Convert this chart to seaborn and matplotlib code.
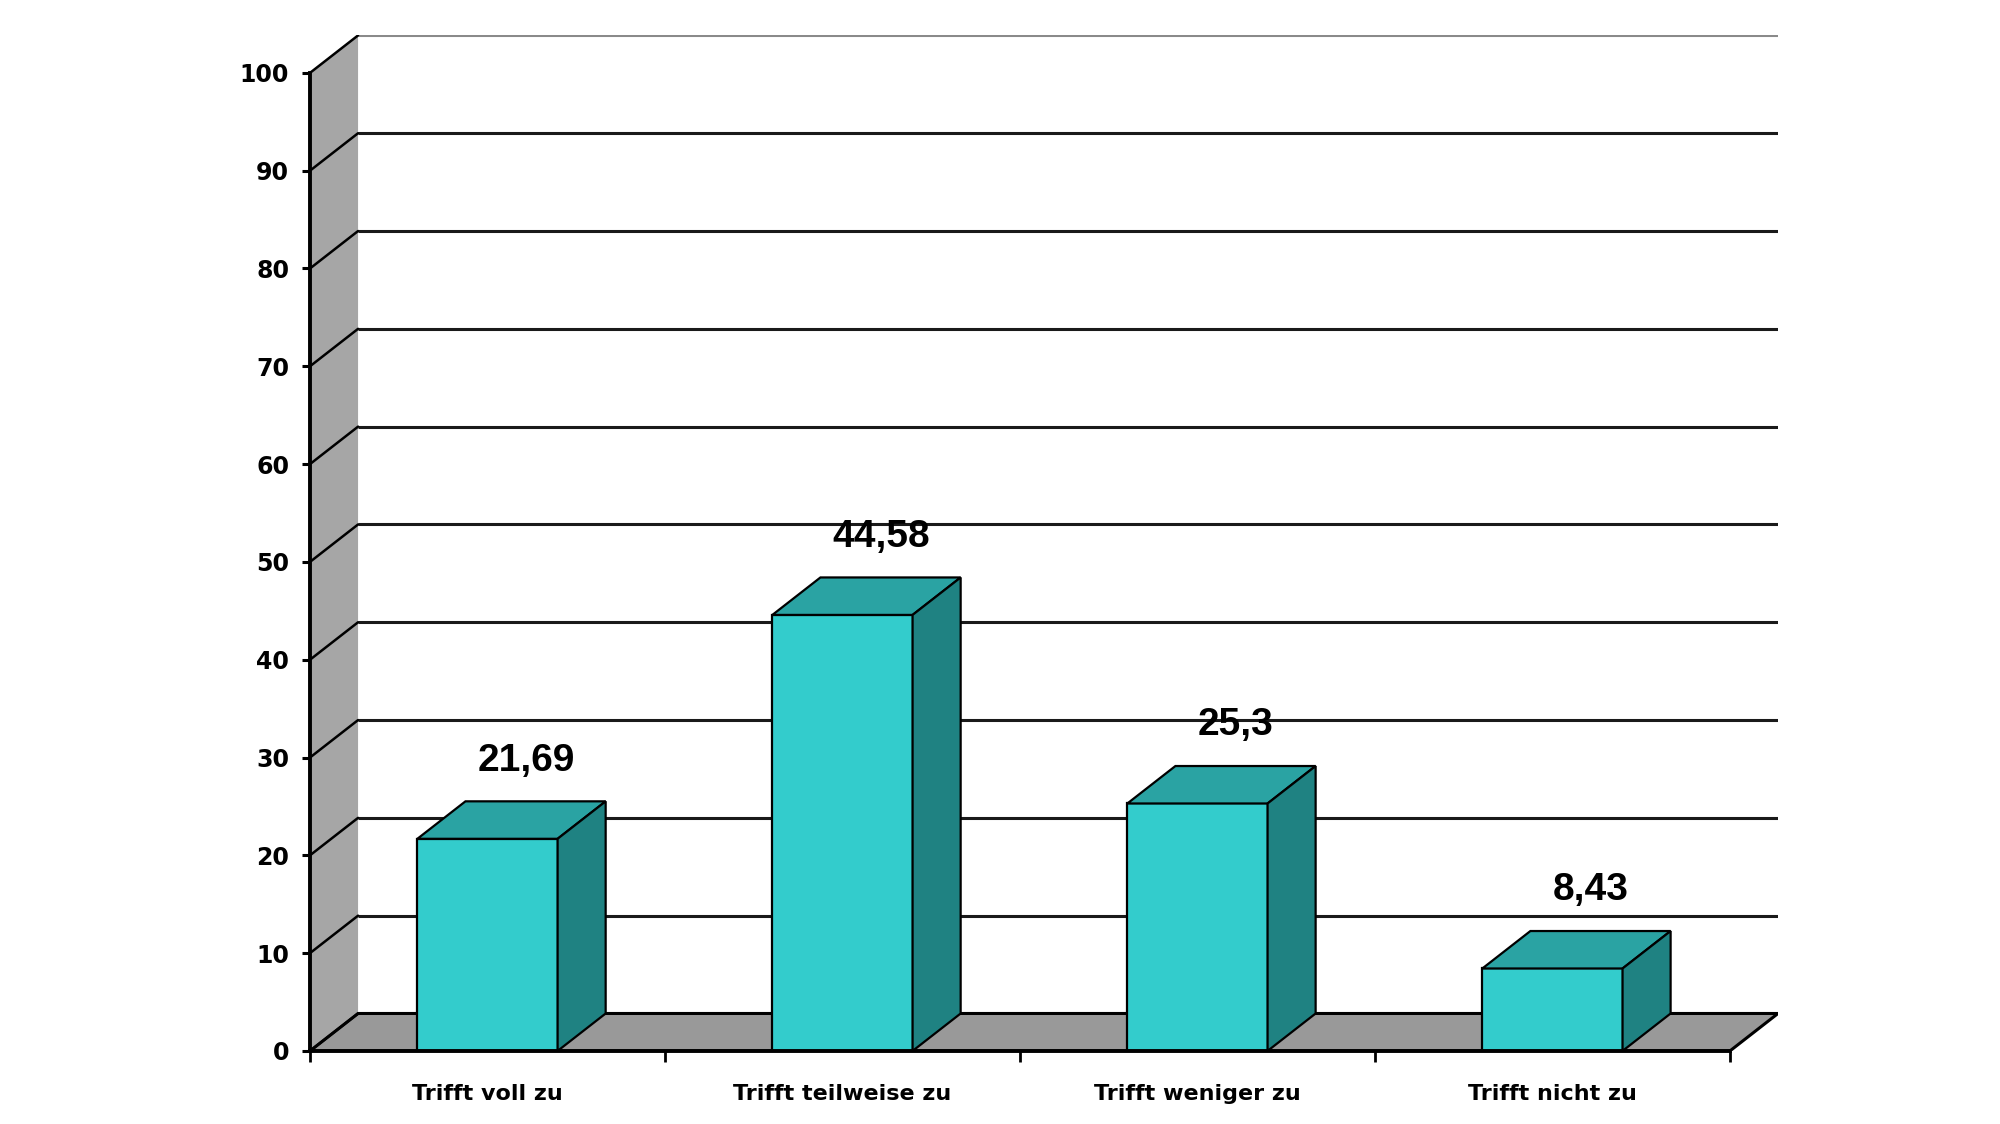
import numpy as np
import seaborn as sns
import matplotlib
matplotlib.use("Agg")
import matplotlib.pyplot as plt
from matplotlib.patches import Polygon

# DATA
categories = ["Trifft voll zu", "Trifft teilweise zu", "Trifft weniger zu", "Trifft nicht zu"]
values = [21.69, 44.58, 25.3, 8.43]
value_labels = ["21,69", "44,58", "25,3", "8,43"]
y_ticks = list(range(0, 101, 10))

if __name__ == '__main__':
    sns.set_style("white", {"axes.edgecolor": "black", "text.color": "black",
                            "xtick.color": "black", "ytick.color": "black"})
    plt.rcParams['font.family'] = ['DejaVu Sans']

    fig = plt.figure(figsize=(20, 11.24), dpi=100)
    ax = fig.add_axes([0.155, 0.065, 0.734, 0.9035])

    n = len(categories)
    dx, dy = 0.1354, 3.83          # fake 3d depth offset (data units)
    x0, x1 = -0.5, n - 0.5

    # WALLS AND FLOOR
    ax.add_patch(Polygon([(x0, 0), (x0 + dx, dy), (x0 + dx, 100 + dy), (x0, 100)],
                         closed=True, facecolor="#a6a6a6", edgecolor="none", zorder=0))
    ax.add_patch(Polygon([(x0, 0), (x1, 0), (x1 + dx, dy), (x0 + dx, dy)],
                         closed=True, facecolor="#999999", edgecolor="black", linewidth=2.2, zorder=0.5))

    # gridlines on the back wall + diagonals on the side wall
    for v in y_ticks[1:]:
        col = "#8a8a8a" if v == 100 else "#1a1a1a"
        ax.plot([x0 + dx, x1 + dx], [v + dy, v + dy], color=col, lw=2.2, zorder=0.6, solid_capstyle="butt")
        ax.plot([x0, x0 + dx], [v, v + dy], color="black", lw=1.8, zorder=0.6)
    ax.plot([x0, x0 + dx], [0, dy], color="black", lw=1.8, zorder=0.6)

    # FRONT FACES
    sns.barplot(x=categories, y=values, color="#33cccc", width=0.395, saturation=1,
                edgecolor="black", linewidth=1.6, ax=ax, zorder=2)

    # TOP AND SIDE FACES
    for p, val, lab in zip(ax.containers[0], values, value_labels):
        xl = p.get_x()
        xr = xl + p.get_width()
        h = p.get_height()
        top = Polygon([(xl, h), (xr, h), (xr + dx, h + dy), (xl + dx, h + dy)], closed=True,
                      facecolor="#2aa3a3", edgecolor="black", linewidth=1.6, zorder=2.1)
        side = Polygon([(xr, 0), (xr + dx, dy), (xr + dx, h + dy), (xr, h)], closed=True,
                       facecolor="#1f8282", edgecolor="black", linewidth=1.6, zorder=2.1)
        ax.add_patch(top)
        ax.add_patch(side)
        xc = xl + p.get_width() / 2
        ax.text(xc + dx * 0.8, h + 8.0, lab, ha="center", va="center", fontsize=28,
                fontweight="bold", color="black", family=["Liberation Sans", "DejaVu Sans"], zorder=3)

    ax.set_xlim(x0, x1 + dx)
    ax.set_ylim(0, 100 + dy)

    # AXES
    for s in ["top", "right"]:
        ax.spines[s].set_visible(False)
    ax.spines["left"].set_bounds(0, 100)
    ax.spines["left"].set_linewidth(2.8)
    ax.spines["bottom"].set_bounds(x0, x1)
    ax.spines["bottom"].set_linewidth(2.8)
    ax.spines["left"].set_zorder(3)
    ax.spines["bottom"].set_zorder(3)

    ax.set_yticks(y_ticks)
    ax.set_yticklabels([str(t) for t in y_ticks], fontsize=17, fontweight="bold", color="black")
    ax.tick_params(axis="y", direction="out", length=6, width=2.2, pad=9, left=True, colors="black")

    ax.set_xticks(np.arange(x0, x1 + 0.01, 1.0))
    ax.set_xticklabels([])
    ax.set_xticks(np.arange(n), minor=True)
    ax.set_xticklabels(categories, minor=True, fontsize=16, fontweight="bold", color="black")
    ax.tick_params(axis="x", which="major", direction="out", length=8, width=2, bottom=True, colors="black")
    ax.tick_params(axis="x", which="minor", length=0, pad=24)
    ax.set_xlabel("")
    ax.set_ylabel("")

    fig.savefig("out.png", dpi=100, facecolor="white")
